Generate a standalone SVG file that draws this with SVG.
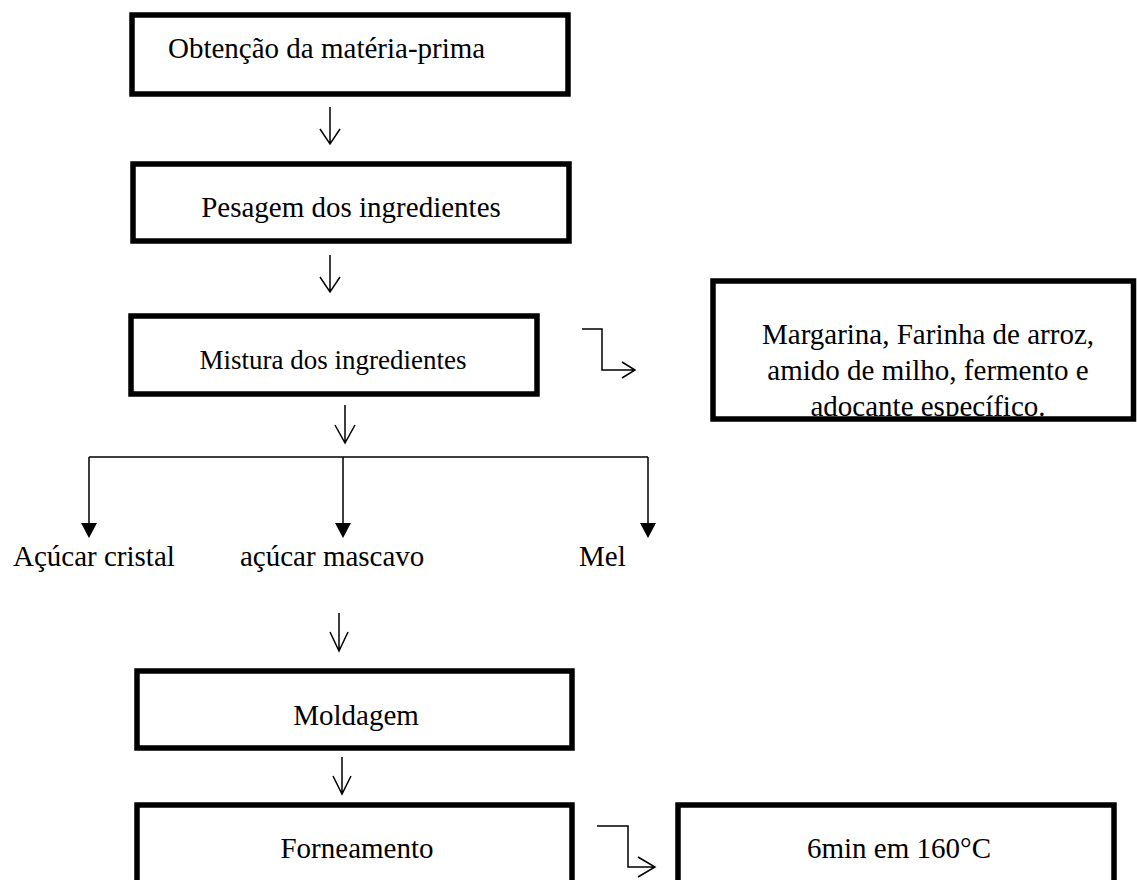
<svg xmlns="http://www.w3.org/2000/svg" width="1137" height="880" viewBox="0 0 1137 880">
<style>
.box{fill:#fff;stroke:#000;stroke-width:5.5}
.t{font-family:"Liberation Serif","Times New Roman",serif;font-size:29px;fill:#000}
.m{text-anchor:middle}
.ln{fill:none;stroke:#000;stroke-width:1.5}
.hd{fill:#000;stroke:none}
</style>
<defs>
<clipPath id="clipM"><rect x="716" y="284" width="415" height="132"/></clipPath>
</defs>
<rect width="1137" height="880" fill="#fff"/>
<g id="n1"><rect class="box" x="132" y="15" width="436" height="79"/><text class="t" x="168" y="58">Obtenção da matéria-prima</text></g>
<g id="n2"><rect class="box" x="133" y="164" width="436" height="77"/><text class="t m" x="351" y="217">Pesagem dos ingredientes</text></g>
<g id="n3"><rect class="box" x="131" y="316" width="406" height="78"/><text class="t m" x="333" y="369" style="font-size:27px">Mistura dos ingredientes</text></g>
<g id="n4"><rect class="box" x="713" y="281" width="420.5" height="138"/><g clip-path="url(#clipM)"><text class="t m" x="928" y="344">Margarina, Farinha de arroz,</text><text class="t m" x="928" y="380">amido de milho, fermento e</text><text class="t m" x="928" y="416">adoçante específico.</text></g></g>
<g id="n5"><text class="t" x="13" y="566">Açúcar cristal</text></g>
<g id="n6"><text class="t" x="240" y="566">açúcar mascavo</text></g>
<g id="n7"><text class="t" x="579" y="566">Mel</text></g>
<g id="n8"><rect class="box" x="137" y="671" width="435" height="77"/><text class="t m" x="356" y="725">Moldagem</text></g>
<g id="n9"><rect class="box" x="137" y="805" width="435" height="100"/><text class="t m" x="357" y="858">Forneamento</text></g>
<g id="n10"><rect class="box" x="678" y="805" width="436" height="100"/><text class="t m" x="899" y="858">6min em 160°C</text></g>
<g id="connectors">
<path class="ln" d="M330 107V144M320 129L330 144L340 129"/>
<path class="ln" d="M330 255V292M320 277L330 292L340 277"/>
<path class="ln" d="M582 329H602V370H635M622 362L635 370L622 378"/>
<path class="ln" d="M345 405V443M335 425L345 443L355 425"/>
<path class="ln" d="M89 457H648M89 457V525M343 457V525M648 457V525"/>
<path class="hd" d="M81 523H97L89 538Z"/>
<path class="hd" d="M335 523H351L343 538Z"/>
<path class="hd" d="M640 523H656L648 538Z"/>
<path class="ln" d="M339 613V651M330 632L339 651L348 632"/>
<path class="ln" d="M342 757V794M333 776L342 794L351 776"/>
<path class="ln" d="M597 826H628V867H655M638 857L655 867L638 877"/>
</g>
</svg>
